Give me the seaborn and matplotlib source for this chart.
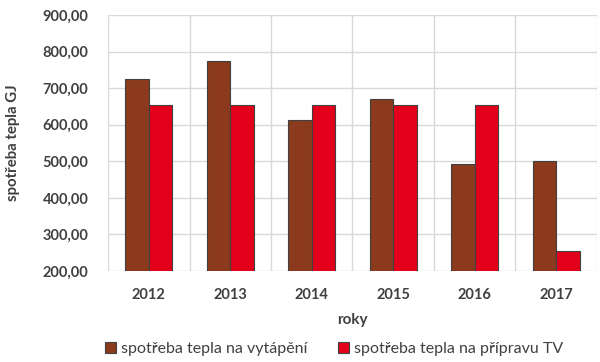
import pandas as pd
import seaborn as sns
import matplotlib.pyplot as plt
from matplotlib.ticker import FuncFormatter, MultipleLocator

years = ["2012", "2013", "2014", "2015", "2016", "2017"]
vytapeni = [726, 774, 613, 669, 493, 501]
priprava_tv = [654, 654, 654, 654, 654, 256]
series_names = ["spotřeba tepla na vytápění", "spotřeba tepla na přípravu TV"]

df = pd.DataFrame({"rok": years * 2,
                   "hodnota": vytapeni + priprava_tv,
                   "serie": [series_names[0]] * 6 + [series_names[1]] * 6})

sns.set_style("white")
plt.rcParams["font.family"] = ["Lato", "DejaVu Sans"]
text_col = "#404040"

fig = plt.figure(figsize=(6, 3.62), dpi=100)
ax = fig.add_axes([0.18, 0.2514, 0.815, 0.7072])

sns.barplot(data=df, x="rok", y="hodnota", hue="serie", width=0.58,
            palette=["#8B3A1E", "#E2001A"], edgecolor="#404040", linewidth=0.8,
            saturation=1, ax=ax)

ax.set_ylim(200, 900)
ax.yaxis.set_major_locator(MultipleLocator(100))
ax.yaxis.set_major_formatter(FuncFormatter(lambda v, p: f"{v:.2f}".replace(".", ",")))
ax.set_xticks([i - 0.5 for i in range(7)], minor=True)
ax.set_xlim(-0.5, 5.5)
ax.grid(axis="y", color="#d9d9d9", linewidth=1)
ax.grid(axis="x", which="minor", color="#d9d9d9", linewidth=1)
ax.set_axisbelow(True)
for s in ax.spines.values():
    s.set_visible(False)
ax.tick_params(axis="both", which="both", length=0, colors=text_col, labelsize=10.5)
for t in ax.get_xticklabels() + ax.get_yticklabels():
    t.set_fontweight("bold")
ax.tick_params(axis="x", pad=12)
ax.tick_params(axis="y", pad=14)

ax.set_xlabel("roky", fontsize=11, fontweight="bold", color=text_col, labelpad=8)
ax.set_ylabel("spotřeba tepla GJ", fontsize=10.8, fontweight="bold", color=text_col, labelpad=16)

ax.legend(loc="center", bbox_to_anchor=(0.462, -0.305), ncol=2, frameon=False,
          fontsize=11.5, labelcolor=text_col, handlelength=0.7, handleheight=0.7,
          handletextpad=0.3, columnspacing=1.95)

fig.savefig("out.png", dpi=100)
